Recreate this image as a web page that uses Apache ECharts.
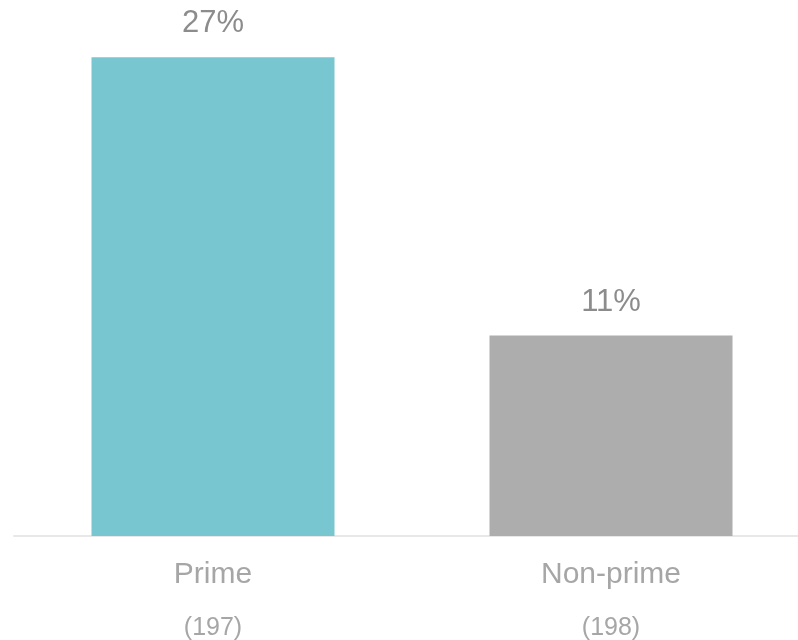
<!DOCTYPE html>
<html>
<head>
<meta charset="utf-8">
<script src="https://cdn.jsdelivr.net/npm/echarts@6/dist/echarts.min.js"></script>
<style>
  html, body { margin: 0; padding: 0; background: #fff; }
  #chart { width: 798px; height: 640px; }
</style>
</head>
<body>
<div id="chart"></div>
<script>
const categories = ["Prime", "Non-prime"];
const counts = ["(197)", "(198)"];
const values = [27, 11.3];
const barColors = ["#78C7D0", "#ADADAD"];

const chart = echarts.init(document.getElementById("chart"));

chart.setOption({
  animation: false,
  grid: { left: 14, width: 796, top: 4, bottom: 104, outerBoundsMode: "none", containLabel: false },
  xAxis: {
    type: "category",
    data: categories,
    axisTick: { show: false },
    axisLine: { lineStyle: { color: "#E8E8E8", width: 2 } },
    axisLabel: {
      margin: 12,
      formatter: (v, i) => `{a|${v}}\n{b|${counts[i]}}`,
      rich: {
        a: { fontFamily: "Liberation Sans, Arial", fontSize: 30, lineHeight: 54, color: "#A6A6A6" },
        b: { fontFamily: "Liberation Sans, Arial", fontSize: 25, lineHeight: 52, color: "#A6A6A6" },
      },
    },
  },
  yAxis: {
    type: "value",
    min: 0,
    max: 30,
    show: false,
    splitLine: { show: false },
  },
  series: [{
    type: "bar",
    barWidth: 243,
    data: values.map((v, i) => ({ value: v, itemStyle: { color: barColors[i] } })),
    label: {
      show: true,
      position: "top",
      distance: 18,
      fontFamily: "Liberation Sans, Arial",
      fontSize: 31,
      color: "#8C8C8C",
      formatter: (p) => Math.round(p.value) + "%",
    },
  }],
});
</script>
</body>
</html>
